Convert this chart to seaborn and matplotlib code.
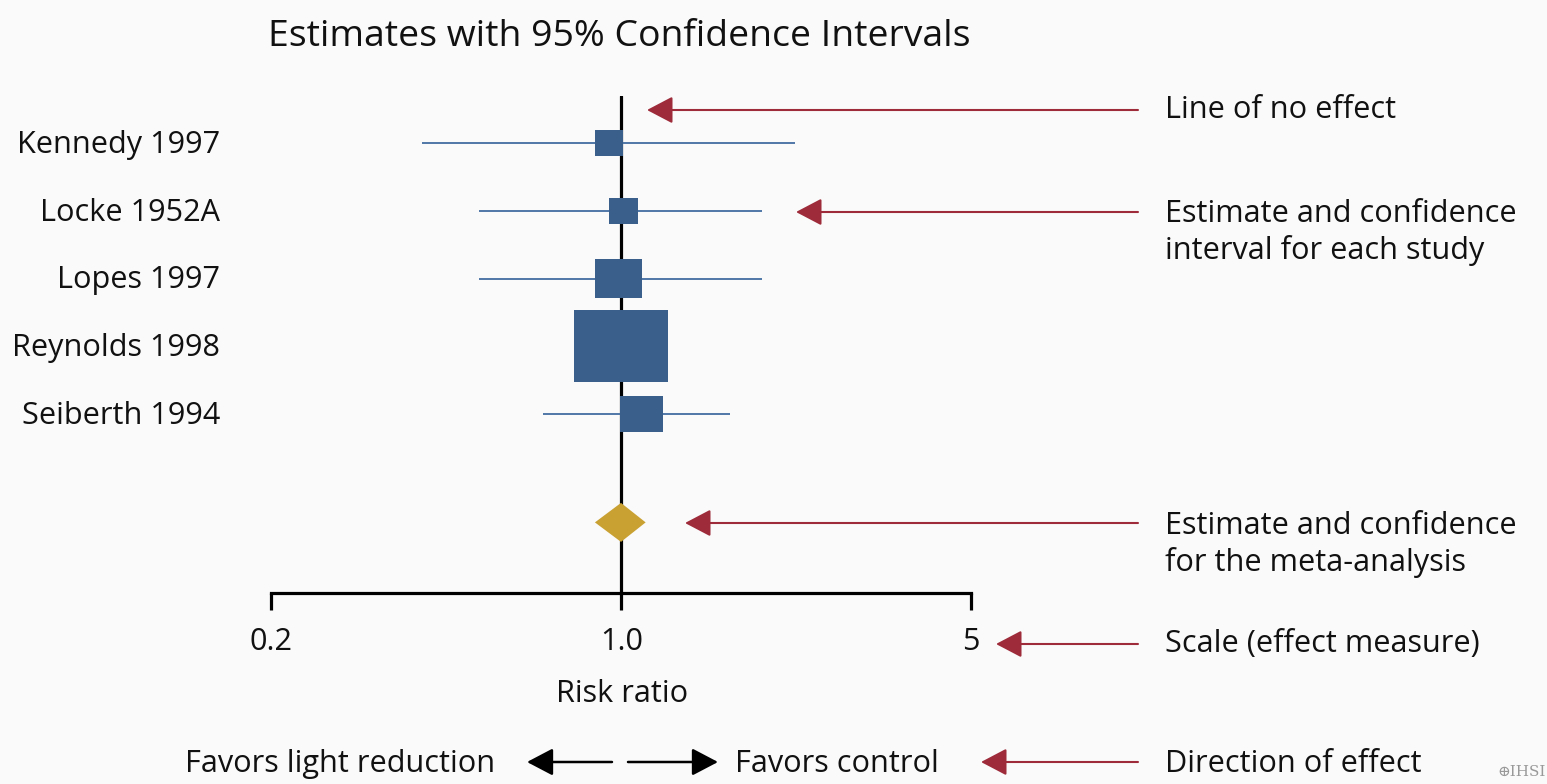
import numpy as np
import matplotlib
matplotlib.use("Agg")
import matplotlib.pyplot as plt
from matplotlib.patches import Rectangle, Polygon
import seaborn as sns

# ---------------- data ----------------
studies = ["Kennedy 1997", "Locke 1952A", "Lopes 1997", "Reynolds 1998", "Seiberth 1994"]
rr = [0.945, 1.01, 0.99, 1.00, 1.10]
ci_low = [0.40, 0.52, 0.52, 0.86, 0.70]
ci_high = [2.23, 1.91, 1.91, 1.17, 1.65]
weights = [5.4, 5.8, 15.1, 60.9, 12.8]       # % weight -> box size
pooled_rr = 1.00
pooled_low = 0.887
pooled_high = 1.12
tick_vals = [0.2, 1.0, 5]
tick_labels = ["0.2", "1.0", "5"]
xlabel = "Risk ratio"
title = "Estimates with 95% Confidence Intervals"
notes = [
    ("Line of no effect", 108),
    ("Estimate and confidence\ninterval for each study", 230),
    ("Estimate and confidence\nfor the meta-analysis", 542),
    ("Scale (effect measure)", 642),
    ("Direction of effect", 762),
]

# ---------------- style ----------------
sns.set_theme(style="white")
plt.rcParams["font.family"] = ["Open Sans", "DejaVu Sans"]
BG = "#fafafa"
BOX = "#3a5f8b"
CI = "#4f77a6"
GOLD = "#c9a133"
RED = "#9e2b3a"
TXT = "#111111"

W, H = 1547, 784
fig = plt.figure(figsize=(W / 100, H / 100), dpi=100, facecolor=BG)

def fx(px):
    return px / W

def fy(py):
    return 1 - py / H

# axes: x from 0.2 (px 271) to 5 (px 971); y from px 96 (top) to px 593 (bottom)
ax_l, ax_r, ax_t, ax_b = 271, 971, 96, 593
ax = fig.add_axes([fx(ax_l), fy(ax_b), (ax_r - ax_l) / W, (ax_b - ax_t) / H])
ax.set_facecolor("none")
ax.set_xscale("log")
ax.set_xlim(tick_vals[0], tick_vals[-1])
row_px = 67.75
first_row_px = 143
ax.set_ylim((ax_b - first_row_px) / row_px, (ax_t - first_row_px) / row_px)

n = len(studies)
ypos = np.arange(n)
pooled_y = n + 0.6

log_per_px = np.log10(tick_vals[-1] / tick_vals[0]) / (ax_r - ax_l)

# line of no effect
ax.axvline(1.0, color="black", lw=2.3, zorder=2)

# confidence intervals
ax.hlines(ypos, ci_low, ci_high, color=CI, lw=1.4, zorder=3)

# weighted boxes
for y, est, w in zip(ypos, rr, weights):
    wpx = 12.0 * np.sqrt(w)
    hpx = 0.7 * wpx + 6
    half = wpx / 2 * log_per_px
    x0 = est / 10 ** half
    x1 = est * 10 ** half
    hh = hpx / row_px
    ax.add_patch(Rectangle((x0, y - hh / 2), x1 - x0, hh, facecolor=BOX,
                           edgecolor="none", zorder=4))

# pooled diamond
dh = 39 / row_px / 2
ax.add_patch(Polygon([(pooled_low, pooled_y), (pooled_rr, pooled_y - dh),
                      (pooled_high, pooled_y), (pooled_rr, pooled_y + dh)],
                     closed=True, facecolor=GOLD, edgecolor="none", zorder=4))

# axis styling
sns.despine(ax=ax, left=True, top=True, right=True)
ax.spines["bottom"].set_linewidth(2.3)
ax.spines["bottom"].set_color("black")
ax.set_yticks([])
ax.set_xticks(tick_vals)
ax.set_xticklabels([])
ax.xaxis.set_minor_locator(matplotlib.ticker.NullLocator())
ax.tick_params(axis="x", which="major", direction="out", length=12.5, width=2.3,
               color="black", bottom=True)

# ---------------- text with fitted sizes ----------------
renderer = fig.canvas.get_renderer()

def fit_size(s, target_w, base=20):
    t = fig.text(0, 0, s, fontsize=base)
    w = t.get_window_extent(renderer).width
    t.remove()
    return base * target_w / w

fs = fit_size("Kennedy 1997", 202)
fs_title = fit_size(title, 702)
dy = 2  # small baseline nudge

fig.text(fx(268), fy(35 + dy), title, fontsize=fs_title, ha="left", va="center", color=TXT)

for y, name in zip(ypos, studies):
    fig.text(fx(220), fy(first_row_px + y * row_px + dy), name, fontsize=fs, ha="right",
             va="center", color=TXT)

tick_px = [ax_l, 622, ax_r]
for px, lab in zip(tick_px, tick_labels):
    fig.text(fx(px), fy(640 + dy), lab, fontsize=fs, ha="center", va="center", color=TXT)

fig.text(fx(622), fy(692 + dy), xlabel, fontsize=fs, ha="center", va="center", color=TXT)

fig.text(fx(495), fy(762 + dy), "Favors light reduction", fontsize=fs, ha="right",
         va="center", color=TXT)
fig.text(fx(735), fy(762 + dy), "Favors control", fontsize=fs, ha="left", va="center",
         color=TXT)

for txt, py in notes:
    fig.text(fx(1165), fy(py + dy), txt, fontsize=fs, ha="left", va="center",
             color=TXT, linespacing=1.25)

# ---------------- arrows ----------------
def arrow(x_tail, x_tip, py, color, lw=1.5, ms=20):
    fig.add_artist(matplotlib.patches.FancyArrowPatch(
        (fx(x_tail), fy(py)), (fx(x_tip), fy(py)), transform=fig.transFigure,
        arrowstyle="-|>,head_length=0.8,head_width=0.42", mutation_scale=ms,
        color=color, lw=lw, shrinkA=0, shrinkB=0))

arrow(1138, 647, 110, RED)
arrow(1138, 796, 212, RED)
arrow(1138, 685, 523, RED)
arrow(1138, 996, 644, RED)
arrow(1138, 981, 762, RED)
arrow(612, 527, 762, "black", lw=1.8)
arrow(628, 718, 762, "black", lw=1.8)

fig.text(fx(1497), fy(772), "\u2295IHSI", fontsize=11, ha="left", va="center",
         color="#999999", family="DejaVu Serif")

fig.savefig("out.png", dpi=100, facecolor=BG)
